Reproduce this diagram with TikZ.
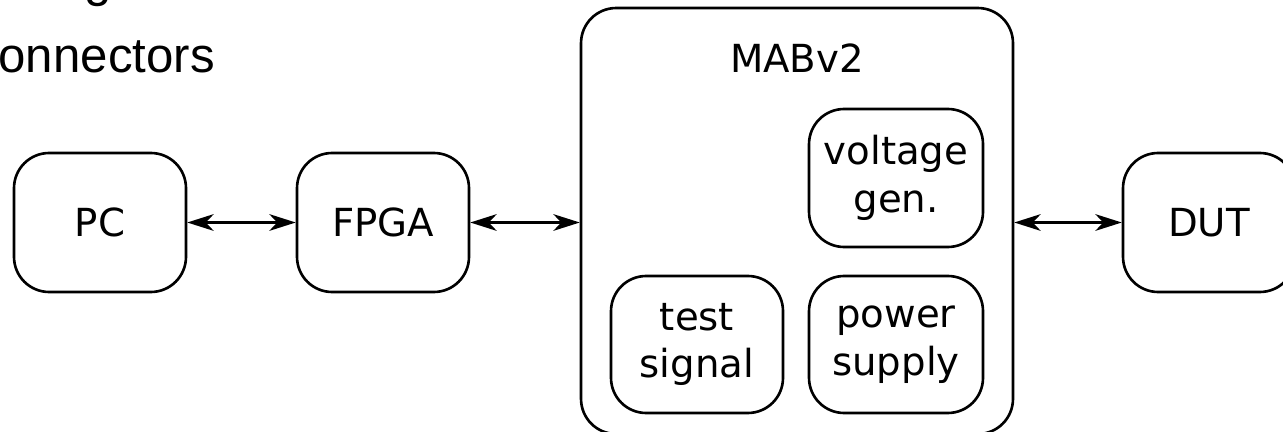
\documentclass[tikz,border=0pt]{standalone}
\usepackage{fontspec}
\setmainfont{DejaVu Sans}
\newfontfamily\slidefont{Liberation Sans}
\usetikzlibrary{arrows.meta}

% one drawing unit = 0.02cm
\def\u{0.5691pt}

\tikzset{
  block/.style={draw, line width=1.5pt, rounded corners=20pt, align=center,
    inner sep=0pt, font=\fontsize{22}{27}\selectfont,
    minimum width={172*\u}, minimum height={139*\u}},
  link/.style={line width=1.5pt, {Stealth[length=15pt,width=9.5pt,inset=4.5pt]}-{Stealth[length=15pt,width=9.5pt,inset=4.5pt]}},
  slidetext/.style={inner sep=0pt, font=\slidefont\fontsize{28}{33}\selectfont}
}

\begin{document}
\begin{tikzpicture}[x=0.02cm, y=-0.02cm]
  \useasboundingbox (0,0) rectangle (1283,432);
  \clip (0,0) rectangle (1283,432);

  % heading text of the slide
  \node[slidetext, anchor=base west] (head) at (84,-3) {g};
  \node[slidetext, anchor=base east] (sub) at (215,73) {connectors};

  % outer blocks
  \node[block] (pc)   at (100,222.5) {PC};
  \node[block] (fpga) at (383,222.5) {FPGA};
  \node[block] (dut)  at (1209,222.5) {DUT};
  \node[block, minimum width={432*\u}, minimum height={426*\u}] (mab) at (797,221) {};
  \node[font=\fontsize{22}{27}\selectfont, anchor=base] (mablabel) at (797,73) {MABv2};

  % blocks inside the board
  \node[block, minimum width={174*\u}, minimum height={138*\u}] (vgen)  at (896,178) {voltage\\gen.};
  \node[block, minimum width={172*\u}, minimum height={137*\u}] (test)  at (697,344.5) {test\\signal};
  \node[block, minimum width={174*\u}, minimum height={137*\u}] (power) at (896,344.5) {power\\supply};

  % links
  \draw[link] (pc) -- (fpga);
  \draw[link] (fpga) -- (fpga -| mab.west);
  \draw[link] (mab.east |- dut) -- (dut);
\end{tikzpicture}
\end{document}
